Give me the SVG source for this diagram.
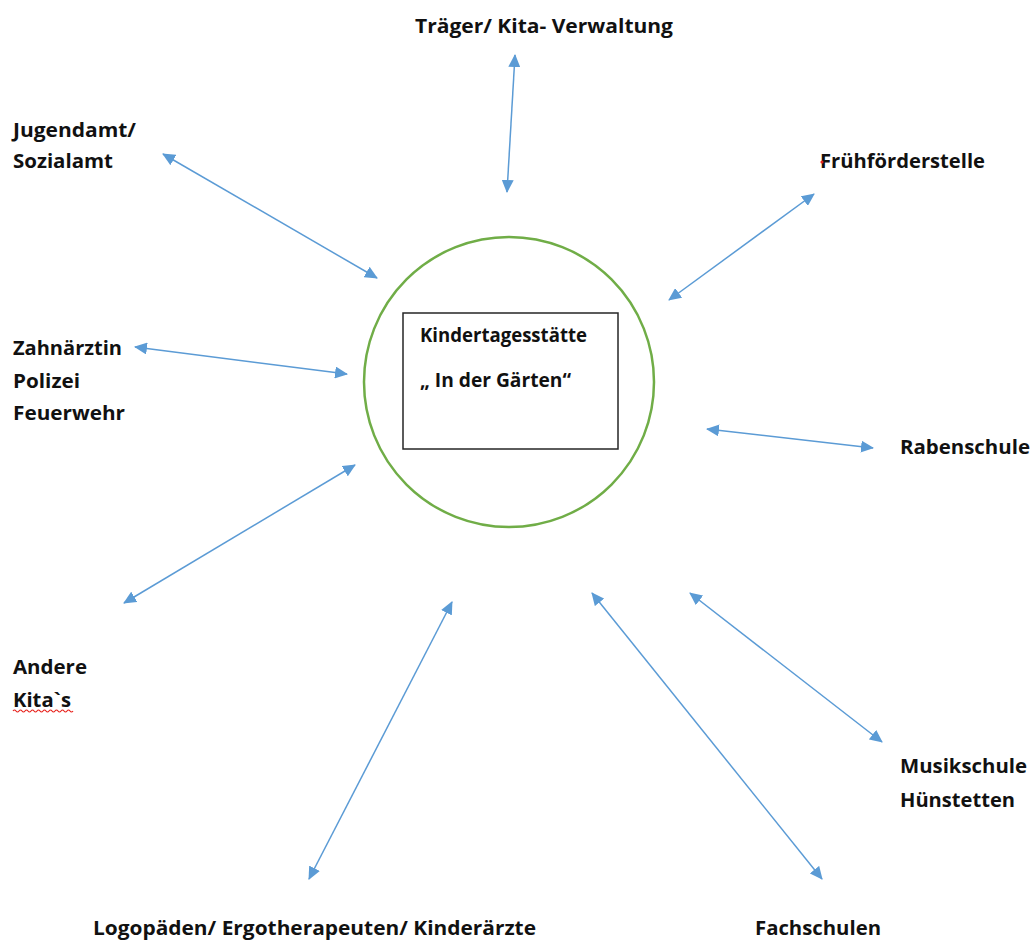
<svg xmlns="http://www.w3.org/2000/svg" width="1035" height="941" viewBox="0 0 1035 941">
<style>
  .lbl { font-family: "Open Sans", "Liberation Sans", sans-serif; font-weight: 700; font-size: 19.5px; fill: #111111; }
  .con { stroke: #5B9BD5; stroke-width: 1.5; fill: none; marker-start: url(#ah); marker-end: url(#ah); }
  .spell { stroke: #E8231E; stroke-width: 1.2; fill: none; }
</style>
<defs>
  <marker id="ah" viewBox="0 0 13 12" refX="12" refY="6" markerWidth="13" markerHeight="12" markerUnits="userSpaceOnUse" orient="auto-start-reverse">
    <path d="M0,0 L13,6 L0,12 Z" fill="#5B9BD5"/>
  </marker>
</defs>
<rect width="1035" height="941" fill="#ffffff"/>

<g id="center">
  <circle cx="509" cy="382" r="145" fill="none" stroke="#70AD47" stroke-width="2.5"/>
  <rect x="403" y="313" width="215" height="136" fill="#ffffff" stroke="#262626" stroke-width="1.5"/>
  <text class="lbl" x="420" y="342" textLength="167" lengthAdjust="spacingAndGlyphs">Kindertagesstätte</text>
  <text class="lbl" x="420" y="387" textLength="151" lengthAdjust="spacingAndGlyphs">„ In der Gärten“</text>
</g>

<g id="connectors">
  <line class="con" x1="515" y1="55" x2="507" y2="192"/>
  <line class="con" x1="163" y1="154" x2="377" y2="278"/>
  <line class="con" x1="814" y1="194" x2="669" y2="300"/>
  <line class="con" x1="135" y1="347" x2="347" y2="374"/>
  <line class="con" x1="707" y1="429" x2="873" y2="448"/>
  <line class="con" x1="355" y1="465" x2="124" y2="603"/>
  <line class="con" x1="452" y1="602" x2="309" y2="879"/>
  <line class="con" x1="592" y1="593" x2="822" y2="879"/>
  <line class="con" x1="690" y1="593" x2="882" y2="742"/>
</g>

<g id="traeger">
  <text class="lbl" x="415" y="33" textLength="258" lengthAdjust="spacingAndGlyphs">Träger/ Kita- Verwaltung</text>
</g>
<g id="jugendamt">
  <text class="lbl" x="13" y="137" textLength="123" lengthAdjust="spacingAndGlyphs">Jugendamt/</text>
  <text class="lbl" x="13" y="168" textLength="100" lengthAdjust="spacingAndGlyphs">Sozialamt</text>
</g>
<g id="fruehfoerderstelle">
  <text class="lbl" x="820" y="168" textLength="165" lengthAdjust="spacingAndGlyphs">Frühförderstelle</text>
  <circle cx="822" cy="162" r="1.6" fill="#E8231E"/>
</g>
<g id="zahnaerztin">
  <text class="lbl" x="13" y="355" textLength="109" lengthAdjust="spacingAndGlyphs">Zahnärztin</text>
  <text class="lbl" x="13" y="388" textLength="67" lengthAdjust="spacingAndGlyphs">Polizei</text>
  <text class="lbl" x="13" y="420" textLength="112" lengthAdjust="spacingAndGlyphs">Feuerwehr</text>
</g>
<g id="rabenschule">
  <text class="lbl" x="900" y="454" textLength="130" lengthAdjust="spacingAndGlyphs">Rabenschule</text>
</g>
<g id="andere-kitas">
  <text class="lbl" x="13" y="674" textLength="74" lengthAdjust="spacingAndGlyphs">Andere</text>
  <text class="lbl" x="13" y="707" textLength="58" lengthAdjust="spacingAndGlyphs">Kita`s</text>
  <path class="spell" d="M13,711 q1.5,-2 3,0 t3,0 t3,0 t3,0 t3,0 t3,0 t3,0 t3,0 t3,0 t3,0 t3,0 t3,0 t3,0 t3,0 t3,0 t3,0 t3,0 t3,0 t3,0 t3,0"/>
</g>
<g id="musikschule">
  <text class="lbl" x="900" y="773" textLength="127" lengthAdjust="spacingAndGlyphs">Musikschule</text>
  <text class="lbl" x="900" y="807" textLength="115" lengthAdjust="spacingAndGlyphs">Hünstetten</text>
</g>
<g id="logopaeden">
  <text class="lbl" x="93" y="935" textLength="443" lengthAdjust="spacingAndGlyphs">Logopäden/ Ergotherapeuten/ Kinderärzte</text>
</g>
<g id="fachschulen">
  <text class="lbl" x="755" y="935" textLength="126" lengthAdjust="spacingAndGlyphs">Fachschulen</text>
</g>
</svg>
